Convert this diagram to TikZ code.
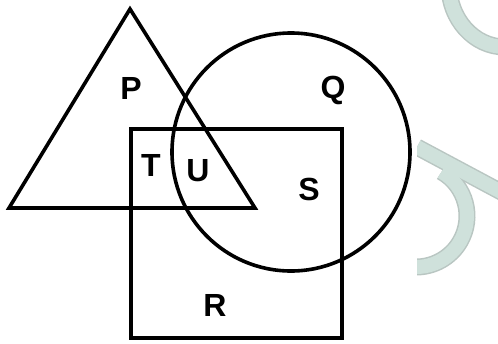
\documentclass[tikz,border=0pt]{standalone}
\usepackage{fontspec}
\setmainfont{Liberation Sans}
\definecolor{wmfill}{HTML}{CFE1DB}
\definecolor{wmedge}{HTML}{B9C6C2}
\tikzset{
  outline/.style={draw=black, line width=3.6pt, line join=miter},
  lbl/.style={font=\fontsize{32}{32}\selectfont\bfseries, inner sep=0pt, anchor=center},
  wmedgeline/.style={draw=wmedge, line width=17pt},
  wmfillline/.style={draw=wmfill, line width=14pt},
}
\begin{document}
\begin{tikzpicture}[x=1pt,y=-1pt]
\useasboundingbox (0,0) rectangle (498,343);
% watermark
\begin{scope}
\clip (417,0) rectangle (498,343);
\draw[wmedgeline] (505,-15) ++(180:56 and 62) arc[start angle=180, end angle=60, x radius=56, y radius=62];
\draw[wmedgeline] (417,147) -- (505,194);
\draw[wmedgeline] (416,216) ++(-60:51) arc[start angle=-60, end angle=92, radius=51];
\draw[wmfillline] (505,-15) ++(180:56 and 62) arc[start angle=180, end angle=60, x radius=56, y radius=62];
\draw[wmfillline] (417,147) -- (505,194);
\draw[wmfillline] (416,216) ++(-60:51) arc[start angle=-60, end angle=92, radius=51];
\end{scope}
% shapes
\draw[outline] (9,208) -- (130,9) -- (255,208) -- cycle;
\draw[outline] (131,129) rectangle (342,338);
\draw[outline] (291,152) circle[radius=119];
% labels
\node[lbl] (P) at (131,88) {P};
\node[lbl] (Q) at (333,90) {Q};
\node[lbl] (T) at (151,165) {T};
\node[lbl] (U) at (198,171) {U};
\node[lbl] (S) at (309,189) {S};
\node[lbl] (R) at (215,305) {R};
\end{tikzpicture}
\end{document}
